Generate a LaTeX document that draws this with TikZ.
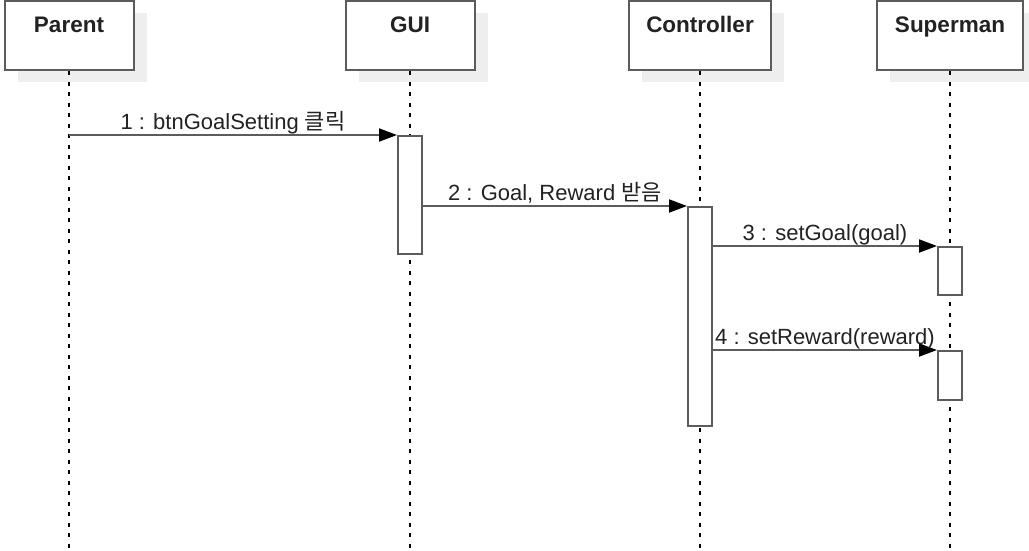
\documentclass[tikz,border=0pt]{standalone}
\usepackage{fontspec}
\setmainfont{Liberation Sans}
\newfontfamily\krfont{Noto Sans CJK KR}
\usetikzlibrary{arrows.meta,shadows}

\definecolor{linegray}{HTML}{5C5C5C}
\definecolor{shadegray}{HTML}{EEEEEE}
\definecolor{textgray}{HTML}{222222}

\begin{document}
\begin{tikzpicture}[x=1pt, y=-1pt,
        head/.style={draw=linegray, line width=2pt, fill=white, minimum height=69pt,
            drop shadow={shadow xshift=13pt, shadow yshift=-12pt, fill=shadegray, opacity=1}},
        headname/.style={anchor=base, yshift=-32pt, inner sep=0pt, text=textgray,
            font=\fontsize{22.5}{27}\selectfont\bfseries},
        act/.style={draw=linegray, line width=2pt, fill=white, minimum width=24pt,
            inner sep=0pt, anchor=north},
        life/.style={line width=1.5pt, dash pattern=on 4pt off 6.5pt},
        msg/.style={draw=linegray, line width=2pt,
            -{Triangle[length=18pt, width=13pt, color=black]}},
        msgname/.style={anchor=base, yshift=6pt, inner sep=0pt, text=textgray,
            font=\fontsize{22}{26}\selectfont}]
        \useasboundingbox (0, 0) rectangle (1029, 550);

        % Pieces
        \node[head, minimum width=129pt, label={[headname]north:Parent}] (Parent) at (69, 35.5) {};
        \node[head, minimum width=129pt, label={[headname]north:GUI}] (GUI) at (410, 35.5) {};
        \node[head, minimum width=142pt, label={[headname]north:Controller}] (Ctrl) at (700, 35.5) {};
        \node[head, minimum width=146pt, label={[headname]north:Superman}] (Super) at (950, 35.5) {};
        \coordinate (end) at (0, 548);

        % Lifelines
        \draw[life] (Parent.south) -- (Parent.south |- end);
        \draw[life] (GUI.south) -- (GUI.south |- end);
        \draw[life] (Ctrl.south) -- (Ctrl.south |- end);
        \draw[life] (Super.south) -- (Super.south |- end);

        % Activations
        \node[act, minimum height=118pt] (guiAct) at (410, 135) {};
        \node[act, minimum height=219pt] (ctrlAct) at (700, 206) {};
        \node[act, minimum height=48pt] (supAct1) at (950, 246) {};
        \node[act, minimum height=49pt] (supAct2) at (950, 350) {};

        % Arrows
        \draw[msg] (Parent.south |- guiAct.north) -- (guiAct.north west)
            node[midway, msgname] {1 : btnGoalSetting {\krfont 클릭}};
        \draw[msg] (guiAct.east |- ctrlAct.north) -- (ctrlAct.north west)
            node[midway, msgname] {2 : Goal, Reward {\krfont 받음}};
        \draw[msg] (ctrlAct.east |- supAct1.north) -- (supAct1.north west)
            node[midway, msgname] {3 : setGoal(goal)};
        \draw[msg] (ctrlAct.east |- supAct2.north) -- (supAct2.north west)
            node[midway, msgname] {4 : setReward(reward)};
\end{tikzpicture}
\end{document}
